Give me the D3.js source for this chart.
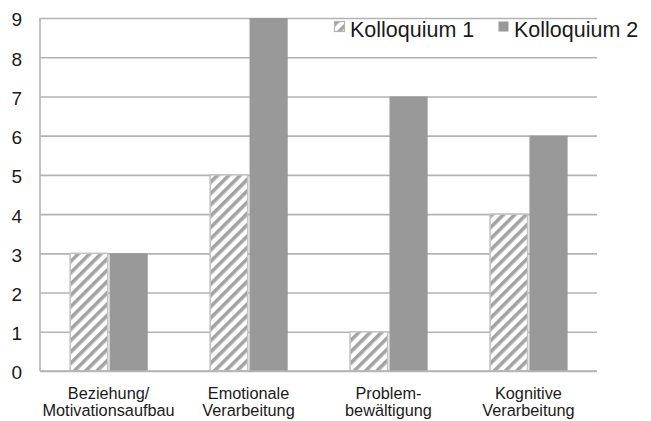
<!DOCTYPE html>
<head>
  <meta charset="utf-8">
  <script src="https://d3js.org/d3.v7.min.js"></script>
  <style>
    body {
      margin: 0;
      background: #fff;
      font-family: "Liberation Sans", Arial, sans-serif;
    }
    .grid line {
      stroke: #b3b3b3;
      stroke-width: 1.6px;
    }
    .grid text {
      font-size: 19px;
      fill: #1a1a1a;
    }
    .xlabel {
      font-size: 16.3px;
      fill: #1a1a1a;
    }
    .legend text {
      font-size: 21.5px;
      fill: #1a1a1a;
    }
  </style>
</head>

<body>
<script>

var categories = [
  ["Beziehung/", "Motivationsaufbau"],
  ["Emotionale", "Verarbeitung"],
  ["Problem-", "bewältigung"],
  ["Kognitive", "Verarbeitung"]
];
var series = ["Kolloquium 1", "Kolloquium 2"];
var kolloquium1 = [3, 5, 1, 4];
var kolloquium2 = [3, 9, 7, 6];
var yTicks = [0, 1, 2, 3, 4, 5, 6, 7, 8, 9];

var W = 651, H = 421;
var plot = {left: 40, right: 597, top: 18, bottom: 371};

var data = categories.map(function(c, i) {
  return {cat: i, values: [kolloquium1[i], kolloquium2[i]]};
});

var svg = d3.select("body").append("svg")
    .attr("width", W)
    .attr("height", H);

// hatch pattern for Kolloquium 1
var defs = svg.append("defs");
var pat = defs.append("pattern")
    .attr("id", "hatch")
    .attr("patternUnits", "userSpaceOnUse")
    .attr("width", 8)
    .attr("height", 8)
    .attr("patternTransform", "rotate(45)");
pat.append("rect").attr("width", 8).attr("height", 8).attr("fill", "#fff");
pat.append("rect").attr("x", 0).attr("width", 3.6).attr("height", 8).attr("fill", "#a3a3a3");

var x0 = d3.scaleBand()
    .domain(d3.range(categories.length))
    .range([plot.left, plot.right])
    .paddingInner(0.44)
    .paddingOuter(0.21);

var x1 = d3.scaleBand()
    .domain(d3.range(series.length))
    .range([0, x0.bandwidth()])
    .padding(0);

var y = d3.scaleLinear()
    .domain([0, 9])
    .range([plot.bottom, plot.top]);

// gridlines + y labels
var yAxis = d3.axisLeft(y)
    .tickValues(yTicks)
    .tickSize(-(plot.right - plot.left))
    .tickPadding(18)
    .tickFormat(d3.format("d"));

var gy = svg.append("g")
    .attr("class", "grid")
    .attr("transform", "translate(" + plot.left + ",0)")
    .call(yAxis);
gy.select(".domain").remove();
gy.selectAll("text").attr("dy", "0.42em");

// y axis line
svg.append("line")
    .attr("x1", plot.left).attr("x2", plot.left)
    .attr("y1", plot.top).attr("y2", plot.bottom)
    .attr("stroke", "#b3b3b3")
    .attr("stroke-width", 1.6);

// bars
var groups = svg.selectAll(".grp")
    .data(data)
  .enter().append("g")
    .attr("class", "grp")
    .attr("transform", function(d) { return "translate(" + x0(d.cat) + ",0)"; });

groups.selectAll("rect")
    .data(function(d) { return d.values.map(function(v, j) { return {s: j, v: v}; }); })
  .enter().append("rect")
    .attr("x", function(d) { return x1(d.s) + (d.s === 0 ? 0.8 : 1); })
    .attr("y", function(d) { return y(d.v); })
    .attr("width", function(d) { return x1.bandwidth() - (d.s === 0 ? 1.6 : 1); })
    .attr("height", function(d) { return y(0) - y(d.v); })
    .attr("fill", function(d) { return d.s === 0 ? "url(#hatch)" : "#999999"; })
    .attr("stroke", function(d) { return d.s === 0 ? "#c4c4c4" : "none"; })
    .attr("stroke-width", 1.6);

// x axis line
svg.append("line")
    .attr("x1", plot.left).attr("x2", plot.right)
    .attr("y1", plot.bottom).attr("y2", plot.bottom)
    .attr("stroke", "#b3b3b3")
    .attr("stroke-width", 1.6);

// category labels
var xl = svg.selectAll(".xlabel")
    .data(categories)
  .enter().append("text")
    .attr("class", "xlabel")
    .attr("text-anchor", "middle")
    .attr("transform", function(d, i) { return "translate(" + (x0(i) + x0.bandwidth() / 2) + ",399)"; });
xl.selectAll("tspan")
    .data(function(d) { return d; })
  .enter().append("tspan")
    .attr("x", 0)
    .attr("y", function(d, i) { return i * 16.7; })
    .text(function(d) { return d; });

// legend
var legendX = [334, 498];
var legend = svg.selectAll(".legend")
    .data(series)
  .enter().append("g")
    .attr("class", "legend")
    .attr("transform", function(d, i) { return "translate(" + legendX[i] + ",0)"; });

legend.append("rect")
    .attr("x", 0.5)
    .attr("y", 21.5)
    .attr("width", 10)
    .attr("height", 10)
    .attr("fill", function(d, i) { return i === 0 ? "url(#hatch)" : "#999999"; })
    .attr("stroke", function(d, i) { return i === 0 ? "#b3b3b3" : "none"; })
    .attr("stroke-width", 1.2);

legend.append("text")
    .attr("x", 16)
    .attr("y", 37)
    .text(function(d) { return d; });

</script>
